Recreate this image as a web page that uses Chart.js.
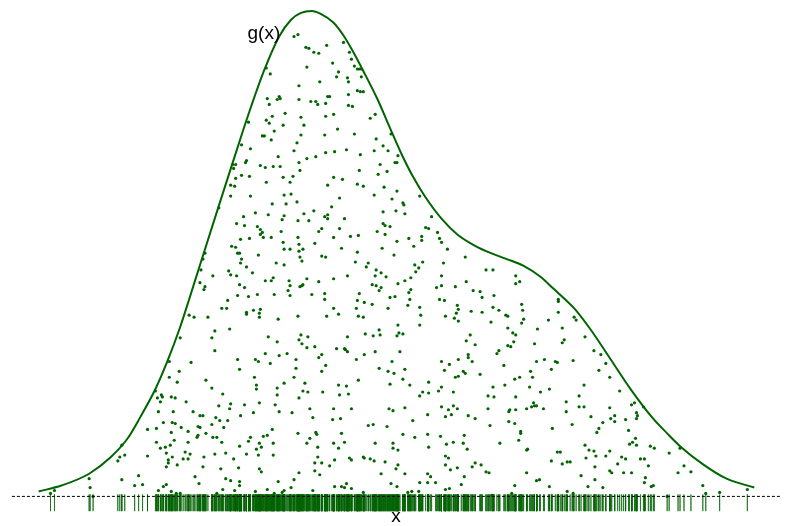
<!DOCTYPE html>
<html>
<head>
<meta charset="utf-8">
<script src="https://cdn.jsdelivr.net/npm/chart.js@4"></script>
<style>
  html, body { margin: 0; padding: 0; background: #fff; overflow: hidden; }
  canvas { display: block; }
</style>
</head>
<body>
<canvas id="rejectionChart" width="785" height="526"></canvas>
<script>
// envelope g(x): x position and height above the dashed baseline
const curveX = [35, 58, 86, 108, 125, 138, 153, 165, 178, 187, 198, 217, 233, 247, 263, 278, 290, 300, 311, 320, 333, 343, 353, 363, 377, 390, 401, 413, 425, 442, 458, 475, 492, 508, 525, 542, 555, 567, 577, 593, 613, 633, 655, 670, 683, 707, 730, 758];
const curveY = [5, 11, 23, 40, 59, 81, 109, 137, 172, 200, 235, 295, 345, 388, 433, 467, 484, 491, 493, 490, 481, 468, 451, 432, 404, 374, 349, 325, 305, 282, 266, 255, 247, 241, 234, 223, 211, 200, 190, 169, 139, 109, 80, 64, 51, 32, 18, 9];

// sampled points under g(x): [x, height]
const samples = [
  [293,467],[297,469],[305,456],[308,455],[313,451],[318,450],[306,436],[265,435],[269,429],[298,417],[319,421],[266,404],[268,398],[276,403],[278,406],[279,404],[298,403],[310,401],[315,401],[317,398],[284,389],[271,386],[300,385],[247,380],[265,382],[268,379],[282,377],[303,377],[273,371],[261,366],[263,366],[270,362],[296,359],[300,367],[240,357],[249,353],[293,351],
  [326,458],[343,461],[349,451],[351,444],[332,440],[354,437],[357,434],[359,434],[361,434],[338,431],[336,426],[347,425],[361,426],[348,421],[357,412],[360,411],[363,411],[348,408],[327,406],[329,406],[325,399],[348,397],[352,396],[325,386],[333,388],[375,388],[370,384],[337,373],[324,367],[354,368],[391,368],[376,363],[383,356],[346,352],[374,351],[388,351],
  [231,337],[234,337],[232,333],[244,339],[245,341],[259,336],[264,334],[272,335],[279,335],[277,345],[298,339],[299,331],[234,323],[240,326],[248,325],[282,324],[292,325],[229,316],[233,315],[265,319],[289,319],[229,305],[249,305],[283,306],[290,307],[217,293],[271,297],[285,297],[296,299],[254,288],[267,286],[242,284],[283,285],[281,281],[297,280],[235,277],[243,275],[256,274],[259,271],[261,268],[259,266],[262,263],[280,269],[248,262],[239,261],[270,263],[297,263],[282,258],[298,256],[230,254],[234,253],[283,251],[289,251],[298,249],[203,247],[236,247],[238,247],[257,245],[240,241],[239,237],[201,241],[299,243],[275,237],[283,235],[245,233],[199,230],[227,229],[229,225],[235,224],[251,227],[211,224],[272,222],[264,219],[270,219],[288,219],[198,217],[203,213],[202,210],[238,215],[243,212],[289,214],[299,213],[287,209],[236,204],[247,203],[256,205],[273,205],[289,204],
  [306,343],[315,345],[325,349],[334,350],[360,347],[398,346],[395,339],[397,339],[380,337],[359,331],[378,327],[387,330],[333,324],[342,322],[327,316],[357,317],[363,315],[384,314],[397,310],[374,306],[339,303],[392,302],[420,305],[331,294],[313,290],[303,287],[324,284],[327,286],[327,282],[308,280],[344,282],[383,289],[396,290],[403,298],[404,296],[405,287],[383,277],[385,275],[390,274],[321,272],[318,269],[339,272],[377,269],[385,266],[358,265],[350,264],[333,263],[426,273],[429,272],[422,264],[422,260],[409,262],[397,259],[314,257],[302,251],[341,252],[382,252],[414,254],[357,248],[394,245],[321,244],[325,243],[301,239],[355,238],[368,237],[366,233],[423,238],[415,235],[419,232],[376,230],[381,227],[375,224],[386,223],[416,228],[411,222],[347,224],[333,221],[306,221],[318,218],[302,215],[301,214],[372,215],[376,214],[381,212],[379,209],[398,216],[405,219],[411,210],[409,207],[311,205],[324,206],[359,206],[390,202],[395,203],
  [432,284],[438,268],[440,262],[442,258],[448,251],[466,243],[444,237],[487,230],[494,230],[442,224],[517,224],[467,218],[517,216],[521,218],[437,212],[442,214],[456,213],[474,209],[481,208],[483,202],[495,204],
  [226,199],[220,191],[225,191],[187,184],[192,182],[206,182],[245,187],[245,185],[252,189],[259,190],[258,186],[258,182],[277,180],[297,183],[213,168],[228,170],[178,161],[210,161],[267,162],[276,157],[300,164],[298,159],[301,155],[213,148],[167,137],[189,136],[236,139],[254,139],[257,137],[269,135],[264,145],[278,143],[286,145],[295,139],[295,130],[238,129],[177,127],[167,121],[175,116],[204,118],[253,121],[255,113],[255,109],[283,115],[293,121],[304,115],[210,110],[276,110],[302,107],[153,107],[221,104],[159,103],[160,101],[155,100],[169,101],[173,100],[158,96],[184,96],[276,103],[298,100],[217,92],[229,94],[228,89],[243,93],[258,95],[274,93],[156,86],[171,86],[191,86],[278,86],
  [324,200],[357,199],[364,197],[372,195],[410,200],[440,200],[445,199],[458,194],[459,190],[457,186],[455,181],[459,178],[333,191],[356,191],[388,191],[408,194],[420,192],[472,188],[483,187],[494,192],[326,183],[338,185],[358,183],[363,182],[421,184],[446,183],[420,174],[492,177],[398,174],[379,169],[365,165],[373,163],[380,164],[397,163],[399,166],[403,165],[307,162],[347,162],[471,164],[467,158],[476,154],[306,151],[314,152],[336,150],[344,150],[345,149],[347,147],[375,147],[400,147],[321,144],[318,141],[364,144],[356,139],[392,137],[469,144],[469,141],[473,137],[459,139],[442,137],[450,134],[498,145],[325,133],[321,127],[379,130],[388,127],[394,125],[405,129],[445,128],[464,127],[466,125],[456,121],[459,122],[481,124],[358,118],[390,114],[403,119],[410,113],[429,116],[442,111],[338,113],[346,112],[307,106],[322,106],[339,103],[348,104],[423,106],[429,105],[420,102],[439,107],[454,106],[494,111],[489,102],[495,101],[309,89],[333,89],[351,89],[389,89],[393,87],[405,90],[442,91],[449,88],[454,92],[458,89],[489,89],
  [560,200],[560,198],[523,195],[524,189],[500,189],[560,187],[507,184],[509,183],[550,179],[525,180],[523,176],[576,182],[578,179],[509,171],[539,170],[564,171],[514,166],[517,164],[587,162],[515,157],[509,153],[512,152],[536,155],[566,159],[564,156],[500,148],[596,148],[603,144],[546,139],[538,137],[557,137],[559,136],[575,138],[608,135],[505,133],[553,129],[601,128],[532,127],[534,121],[521,121],[516,119],[612,121],[506,113],[531,111],[586,113],[551,109],[542,106],[622,107],[581,102],[517,101],[568,96],[535,95],[536,92],[533,91],[538,92],[528,89],[545,89],[581,91],[586,91],[612,90],[634,93],[637,95],[517,88],[511,88],[510,86],[568,86],[646,91],
  [145,68],[154,69],[161,75],[170,75],[173,74],[198,82],[201,82],[179,70],[196,71],[198,70],[169,65],[186,66],[204,64],[196,62],[195,60],[154,55],[172,57],[186,55],[168,52],[163,50],[158,49],[164,44],[170,40],[181,38],[186,38],[183,45],[188,43],[202,40],[119,52],[122,42],[117,40],[115,36],[145,41],[166,37],[166,34],[175,32],[164,30],[201,30],[86,18],[119,17],[136,21],[132,11],[140,12],[193,20],[197,13],[87,9],[90,0],[47,3],[51,6],[156,6],[161,10],[164,12],[169,5],[174,3],[178,3],
  [214,80],[218,77],[226,77],[239,82],[252,85],[291,85],[312,80],[332,78],[340,79],[210,73],[222,70],[211,60],[215,60],[220,55],[271,68],[297,64],[315,65],[316,63],[341,64],[368,72],[373,73],[387,71],[249,60],[247,56],[262,61],[266,62],[309,59],[272,54],[258,54],[260,50],[255,48],[238,51],[306,54],[317,50],[333,54],[344,55],[338,49],[375,54],[393,54],[393,49],[213,43],[224,44],[232,38],[245,43],[257,42],[272,42],[317,40],[314,34],[321,34],[329,31],[334,37],[349,39],[351,37],[363,40],[364,39],[370,38],[374,36],[385,35],[237,29],[219,28],[258,28],[260,25],[314,26],[319,22],[298,24],[381,23],[224,18],[229,16],[238,15],[238,11],[277,15],[293,17],[346,13],[391,13],[334,10],[341,10],[344,9],[351,8],[290,9],[283,6],[266,7],[233,6],[221,7],[254,5],[273,3],[281,4],[312,6],[363,4],[215,3],
  [413,77],[428,83],[446,81],[452,83],[469,82],[476,79],[491,72],[510,76],[516,74],[522,66],[522,64],[554,69],[574,73],[403,63],[415,60],[428,63],[441,61],[465,62],[447,53],[454,55],[464,54],[429,50],[468,48],[501,54],[520,57],[529,48],[528,47],[398,47],[398,32],[396,28],[446,41],[449,39],[446,32],[458,29],[451,27],[476,34],[482,32],[473,30],[487,25],[490,24],[465,20],[428,23],[431,20],[405,23],[428,14],[436,14],[420,14],[462,12],[397,10],[446,7],[450,8],[419,5],[412,5],[408,4],[516,11],[528,24],[538,16],[541,17],[551,10],[553,36],[559,45],[562,45],[564,33],[569,35],[572,35],[513,3],[493,1],[569,5],[575,3],
  [593,81],[613,79],[617,82],[617,76],[628,78],[639,85],[640,82],[639,79],[605,75],[601,69],[599,65],[631,67],[587,52],[591,47],[596,46],[598,41],[588,39],[608,41],[612,46],[632,53],[635,55],[639,52],[638,59],[624,40],[628,38],[620,33],[643,38],[647,38],[651,31],[653,51],[657,49],[672,44],[683,49],[597,30],[612,26],[614,24],[626,24],[634,24],[583,21],[648,19],[647,14],[597,17],[590,10],[605,9],[654,10],[656,11],[681,24],[687,31],[694,25],[706,11],[709,3],[723,4],[751,7],[670,0]
];

// axis limits (axes themselves are hidden)
const xRange = [0, 785];
const yRange = [-26, 500];
const baselineX = [8, 785];
const rugTop = 2;
const rugBottom = -15;

const green = '#006400';

// text labels placed through the scales
const labelPlugin = {
    id: 'labels',
    afterDatasetsDraw(chart) {
        const { ctx, scales: { x, y } } = chart;
        ctx.save();
        ctx.fillStyle = '#000';
        ctx.font = '19px "Liberation Sans", Arial, sans-serif';
        ctx.textBaseline = 'alphabetic';
        ctx.textAlign = 'left';
        ctx.fillText('g(x)', x.getPixelForValue(246), y.getPixelForValue(464));
        ctx.textAlign = 'center';
        ctx.fillText('x', x.getPixelForValue(396), y.getPixelForValue(-26.5));
        ctx.restore();
    }
};

function buildChart() {
    const ctx = document.getElementById('rejectionChart').getContext('2d');

    const curveData = curveX.map((cx, i) => ({ x: cx, y: curveY[i] }));
    const pointData = samples.map(p => ({ x: p[0], y: p[1] }));

    // rug: one short tick per sample, broken apart by null points
    const rugData = [];
    samples.forEach(p => {
        rugData.push({ x: p[0], y: rugTop }, { x: p[0], y: rugBottom }, { x: p[0], y: null });
    });

    new Chart(ctx, {
        type: 'scatter',
        data: {
            datasets: [{
                type: 'line',
                data: baselineX.map(bx => ({ x: bx, y: 0 })),
                borderColor: '#000',
                borderWidth: 1,
                borderDash: [3, 2],
                pointRadius: 0
            }, {
                type: 'line',
                data: curveData,
                borderColor: green,
                borderWidth: 2,
                cubicInterpolationMode: 'monotone',
                pointRadius: 0
            }, {
                data: pointData,
                backgroundColor: green,
                borderWidth: 0,
                pointRadius: 1.6
            }, {
                type: 'line',
                data: rugData,
                borderColor: 'rgba(0,100,0,0.5)',
                borderWidth: 1,
                pointRadius: 0,
                spanGaps: false,
                // a segment option makes every tick stroke on its own
                segment: { borderColor: () => undefined }
            }]
        },
        options: {
            responsive: false,
            animation: false,
            events: [],
            layout: { padding: 0 },
            plugins: {
                legend: { display: false },
                tooltip: { enabled: false }
            },
            scales: {
                x: { type: 'linear', min: xRange[0], max: xRange[1], display: false },
                y: { type: 'linear', min: yRange[0], max: yRange[1], display: false }
            }
        },
        plugins: [labelPlugin]
    });
}

document.addEventListener('DOMContentLoaded', buildChart);
</script>
</body>
</html>
